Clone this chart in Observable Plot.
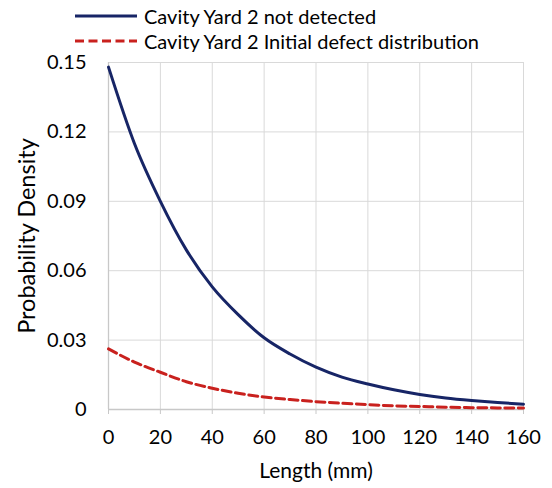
<!DOCTYPE html>
<html>
<head>
<meta charset="utf-8">
<script src="https://cdn.jsdelivr.net/npm/d3@7"></script>
<script src="https://cdn.jsdelivr.net/npm/@observablehq/plot@0.6"></script>
<style>
  body { margin: 0; background: #fff; font-family: Lato, "Open Sans", sans-serif; }
  #wrap { position: relative; width: 552px; height: 488px; }
  #legend { position: relative; height: 46px; width: 552px; }
  .lg { position: absolute; left: 75px; height: 24px; display: flex; align-items: center; font-size: 20px; color: #000; white-space: nowrap; }
  .lg svg { margin-right: 7px; }
  #chart svg { overflow: visible; }
  #chart svg g[aria-label="y-axis tick label"] text,
  #chart svg g[aria-label="x-axis tick label"] text { font-size: 20px; }
</style>
</head>
<body>
<div id="wrap">
  <div id="legend"></div>
  <div id="chart"></div>
</div>
<script>
const lengths = [0, 10, 20, 30, 40, 50, 60, 70, 80, 90, 100, 110, 120, 130, 140, 150, 160];
const notDetected = [0.148, 0.115, 0.090, 0.069, 0.053, 0.041, 0.031, 0.024, 0.0183, 0.014, 0.011, 0.0085, 0.0065, 0.005, 0.0039, 0.003, 0.0023];
const initialDist = [0.0262, 0.0205, 0.0161, 0.012, 0.0092, 0.0070, 0.0054, 0.0043, 0.0034, 0.0027, 0.0021, 0.0016, 0.0013, 0.0010, 0.0008, 0.0007, 0.0006];
const seriesNames = ["Cavity Yard 2 not detected", "Cavity Yard 2 Initial defect distribution"];
const xTicks = [0, 20, 40, 60, 80, 100, 120, 140, 160];
const yTicks = [0, 0.03, 0.06, 0.09, 0.12, 0.15];
const yTickLabels = ["0", "0.03", "0.06", "0.09", "0.12", "0.15"];
const xLabel = "Length (mm)";
const yLabel = "Probability Density";

const blue = "#172566";
const red = "#c9211e";

// Legend
const legend = document.getElementById("legend");
const styles = [{color: blue, dash: null, top: 4}, {color: red, dash: "9,4.5", top: 29}];
seriesNames.forEach((name, i) => {
  const s = styles[i];
  const div = document.createElement("div");
  div.className = "lg";
  div.style.top = s.top + "px";
  div.innerHTML = `<svg width="62" height="6"><line x1="0" x2="62" y1="3" y2="3" stroke="${s.color}" stroke-width="3" ${s.dash ? `stroke-dasharray="${s.dash}"` : ""}/></svg><span>${name}</span>`;
  legend.appendChild(div);
});

const dataA = lengths.map((x, i) => ({x, y: notDetected[i]}));
const dataB = lengths.map((x, i) => ({x, y: initialDist[i]}));

const chart = Plot.plot({
  width: 552,
  height: 442,
  marginLeft: 108,
  marginRight: 29,
  marginTop: 16,
  marginBottom: 79,
  style: {fontFamily: "Lato, 'Open Sans', sans-serif", fontSize: "20px", color: "#000", background: "#fff", overflow: "visible"},
  x: {domain: [0, 160]},
  y: {domain: [0, 0.15]},
  marks: [
    Plot.ruleX(xTicks.slice(1), {stroke: "#d9d9d9", strokeWidth: 1, strokeOpacity: 1}),
    Plot.ruleY(yTicks.slice(1), {stroke: "#d9d9d9", strokeWidth: 1, strokeOpacity: 1}),
    Plot.ruleY([0], {stroke: "#c8c8c8", strokeWidth: 1.3}),
    Plot.ruleX([0], {stroke: "#c8c8c8", strokeWidth: 1.3}),
    Plot.axisX({ticks: xTicks, tickSize: 5, tickPadding: 15, stroke: "#c8c8c8", strokeOpacity: 1, fontSize: 20, fill: "#000", label: null, tickFormat: d => String(d)}),
    Plot.axisY({ticks: yTicks, tickSize: 0, tickPadding: 22, fontSize: 20, fill: "#000", label: null, tickFormat: d => yTickLabels[yTicks.indexOf(d)]}),
    Plot.line(dataB, {x: "x", y: "y", stroke: red, strokeWidth: 3, strokeDasharray: "9,4.5", curve: "monotone-x"}),
    Plot.line(dataA, {x: "x", y: "y", stroke: blue, strokeWidth: 3, curve: "monotone-x"}),
    Plot.text([xLabel], {frameAnchor: "bottom", dy: 68, fontSize: 21, fill: "#000"}),
    Plot.text([yLabel], {frameAnchor: "left", textAnchor: "middle", dx: -81, rotate: -90, fontSize: 23.5, fill: "#000"})
  ]
});
document.getElementById("chart").appendChild(chart);
</script>
</body>
</html>
